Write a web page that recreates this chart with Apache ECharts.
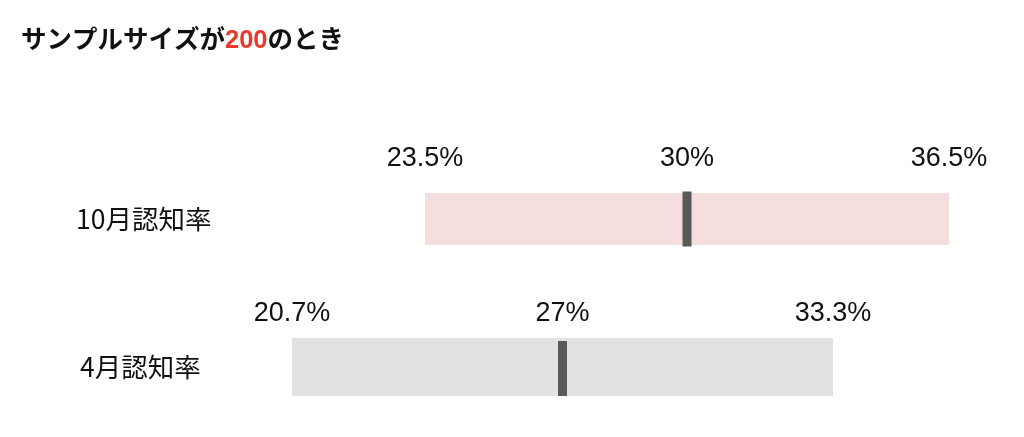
<!DOCTYPE html>
<html>
<head>
<meta charset="utf-8">
<script src="https://cdn.jsdelivr.net/npm/echarts@6/dist/echarts.min.js"></script>
<style>
html,body{margin:0;padding:0;background:#fff;}
#chart{width:1024px;height:437px;}
</style>
</head>
<body>
<div id="chart"></div>
<script>
// ---- data ----
const categories = ['10月認知率', '4月認知率'];
const lowValues = [23.5, 20.7];
const pointValues = [30, 27];
const highValues = [36.5, 33.3];
const titleParts = ['サンプルサイズが', '200', 'のとき'];

// ---- layout / style ----
const barColors = ['#f4dede', '#e2e2e2'];
const grids = [
  { left: 425, width: 524, top: 193, height: 52 },
  { left: 292, width: 541, top: 338, height: 58 }
];
const labelGap = [34, 24];
const catLabelLeft = [76, 80];
const markerExtra = [3, -3];
const FONT = '"Liberation Sans", "Noto Sans CJK JP", sans-serif';

const chart = echarts.init(document.getElementById('chart'));

const series = categories.map((c, i) => ({
  type: 'custom',
  xAxisIndex: i,
  yAxisIndex: i,
  clip: false,
  encode: { x: [0, 1, 2], y: 3 },
  data: [[lowValues[i], highValues[i], pointValues[i], 0]],
  renderItem: function (params, api) {
    const lo = api.coord([api.value(0), 0]);
    const hi = api.coord([api.value(1), 0]);
    const pt = api.coord([api.value(2), 0]);
    const h = api.size([0, 1])[1];
    const top = lo[1] - h / 2;
    const ty = top - labelGap[i];
    const txt = (x, v) => ({
      type: 'text',
      style: {
        x: x, y: ty, text: v + '%',
        textAlign: 'center', textVerticalAlign: 'middle',
        font: '27px ' + FONT, fill: '#111'
      }
    });
    const mh = h + markerExtra[i];
    return {
      type: 'group',
      children: [
        { type: 'rect', shape: { x: lo[0], y: top, width: hi[0] - lo[0], height: h }, style: { fill: barColors[i] } },
        { type: 'rect', shape: { x: pt[0] - 4.5, y: top + h - mh + (markerExtra[i] > 0 ? markerExtra[i] / 2 : 0), width: 9, height: mh }, style: { fill: '#595959' } },
        txt(lo[0], api.value(0)),
        txt(pt[0], api.value(2)),
        txt(hi[0], api.value(1))
      ]
    };
  }
}));

chart.setOption({
  animation: false,
  backgroundColor: '#fff',
  title: {
    left: 21, top: 28, padding: 0,
    text: '{a|' + titleParts[0] + '}{b|' + titleParts[1] + '}{a|' + titleParts[2] + '}',
    textStyle: {
      rich: {
        a: { fontSize: 25.5, fontWeight: 'bold', color: '#111', fontFamily: FONT },
        b: { fontSize: 25.5, fontWeight: 'bold', color: '#e8382a', fontFamily: FONT }
      }
    }
  },
  grid: grids,
  xAxis: grids.map((g, i) => ({
    type: 'value', gridIndex: i, min: lowValues[i], max: highValues[i], show: false
  })),
  yAxis: grids.map((g, i) => ({
    type: 'category', gridIndex: i, data: [categories[i]],
    axisLine: { show: false }, axisTick: { show: false }, splitLine: { show: false },
    axisLabel: {
      margin: g.left - catLabelLeft[i], align: 'left',
      fontSize: 26.5, color: '#111', fontFamily: '"Noto Sans CJK JP", sans-serif',
      padding: [0, 0, i === 1 ? 6 : 2, 0]
    }
  })),
  series: series
});
</script>
</body>
</html>
